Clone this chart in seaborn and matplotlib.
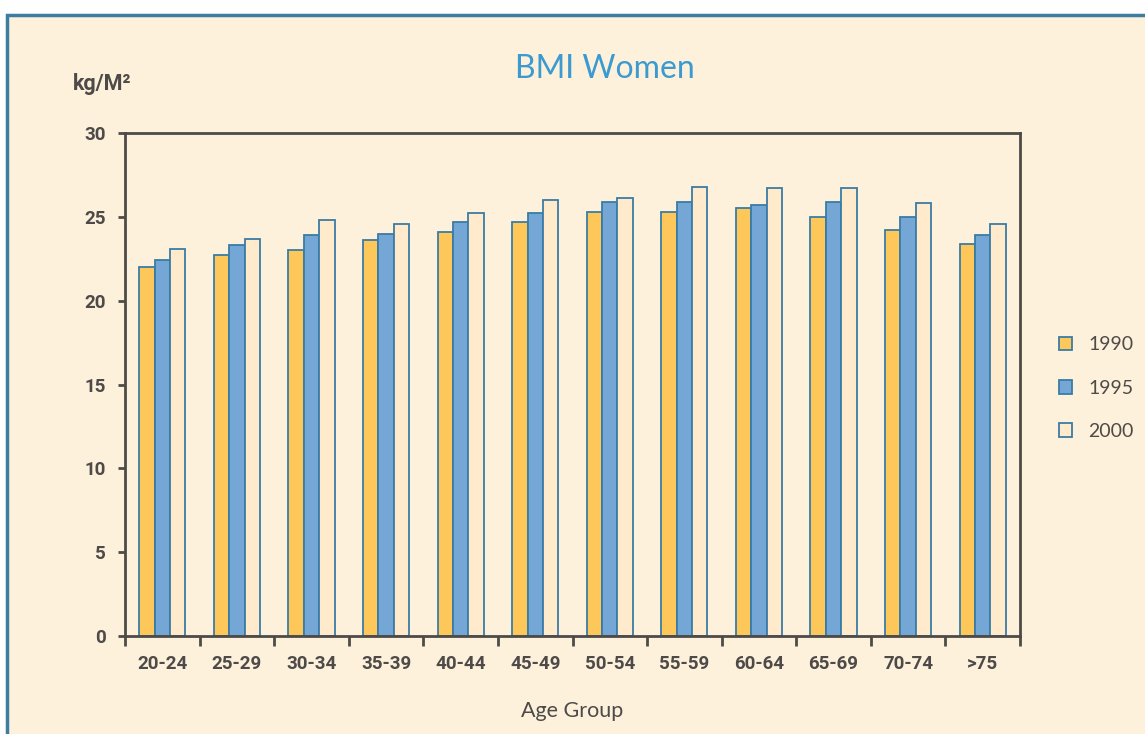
import numpy as np
import pandas as pd
import matplotlib.pyplot as plt
import matplotlib.patches as mpatches
import seaborn as sns

age_groups = ["20-24", "25-29", "30-34", "35-39", "40-44", "45-49",
              "50-54", "55-59", "60-64", "65-69", "70-74", ">75"]
bmi_1990 = [22.0, 22.7, 23.0, 23.6, 24.1, 24.7, 25.3, 25.3, 25.5, 25.0, 24.2, 23.4]
bmi_1995 = [22.4, 23.3, 23.9, 24.0, 24.7, 25.2, 25.9, 25.9, 25.7, 25.9, 25.0, 23.9]
bmi_2000 = [23.1, 23.7, 24.8, 24.6, 25.2, 26.0, 26.1, 26.8, 26.7, 26.7, 25.8, 24.6]
years = ["1990", "1995", "2000"]

df = pd.DataFrame({
    "Age Group": age_groups * 3,
    "BMI": bmi_1990 + bmi_1995 + bmi_2000,
    "Year": [y for y in years for _ in age_groups],
})

bg = "#FDF1DC"
dark = "#4d4a48"
colors = {"1990": "#FDC75A", "1995": "#74A7D6", "2000": "#FFEBCC"}

sns.set_style("white")
plt.rcParams["font.family"] = ["Roboto", "DejaVu Sans"]

fig = plt.figure(figsize=(11.45, 7.34), dpi=100)
fig.patch.set_facecolor("white")
# framed panel behind the chart
fig.patches.append(mpatches.Rectangle(
    (7 / 1145, -0.05), 1.1, 1 - 15 / 734 + 0.05, transform=fig.transFigure,
    facecolor=bg, edgecolor="#3C7DA0", linewidth=2.5, zorder=-10))

ax = fig.add_axes([125 / 1145, 1 - 636 / 734, 895 / 1145, 503 / 734])
ax.set_facecolor(bg)

sns.barplot(data=df, x="Age Group", y="BMI", hue="Year", palette=colors,
            width=0.62, gap=0, edgecolor="#3A7CA5", linewidth=1.3,
            saturation=1, ax=ax)

ax.set_ylim(0, 30)
ax.set_xlim(-0.5, 11.5)
ax.set_yticks(np.arange(0, 31, 5))
ax.set_xticks(np.arange(-0.5, 12, 1), minor=True)
ax.tick_params(axis="x", which="major", length=0, pad=14, labelsize=13.5,
               labelcolor=dark)
ax.tick_params(axis="x", which="minor", length=7, width=2, color=dark,
               direction="out", bottom=True)
ax.tick_params(axis="y", length=5, width=2, color=dark, direction="out",
               left=True, pad=9, labelsize=13.5, labelcolor=dark)
for lab in ax.get_xticklabels() + ax.get_yticklabels():
    lab.set_fontweight("bold")
for s in ax.spines.values():
    s.set_color(dark)
    s.set_linewidth(2)

ax.set_xlabel("Age Group", fontsize=15.5, color=dark, labelpad=20,
              family=["Lato", "DejaVu Sans"])
ax.set_ylabel("")

fig.text(73 / 1145, 1 - 84 / 734, "kg/M²", fontsize=15.5, fontweight="bold",
         color=dark, va="center", ha="left")
fig.text(605 / 1145, 1 - 69 / 734, "BMI Women", fontsize=23, color="#3B9AD0",
         ha="center", va="center", family=["Lato", "DejaVu Sans"])

ax.legend(loc="upper left", bbox_to_anchor=(1041 / 1145, 1 - 319 / 734),
          bbox_transform=fig.transFigure, frameon=False,
          handlelength=0.7, handleheight=0.7, labelspacing=1.35,
          handletextpad=0.85, labelcolor=dark,
          prop={"family": ["Lato", "DejaVu Sans"], "size": 14})

fig.savefig("out.png", dpi=100, facecolor="white")
